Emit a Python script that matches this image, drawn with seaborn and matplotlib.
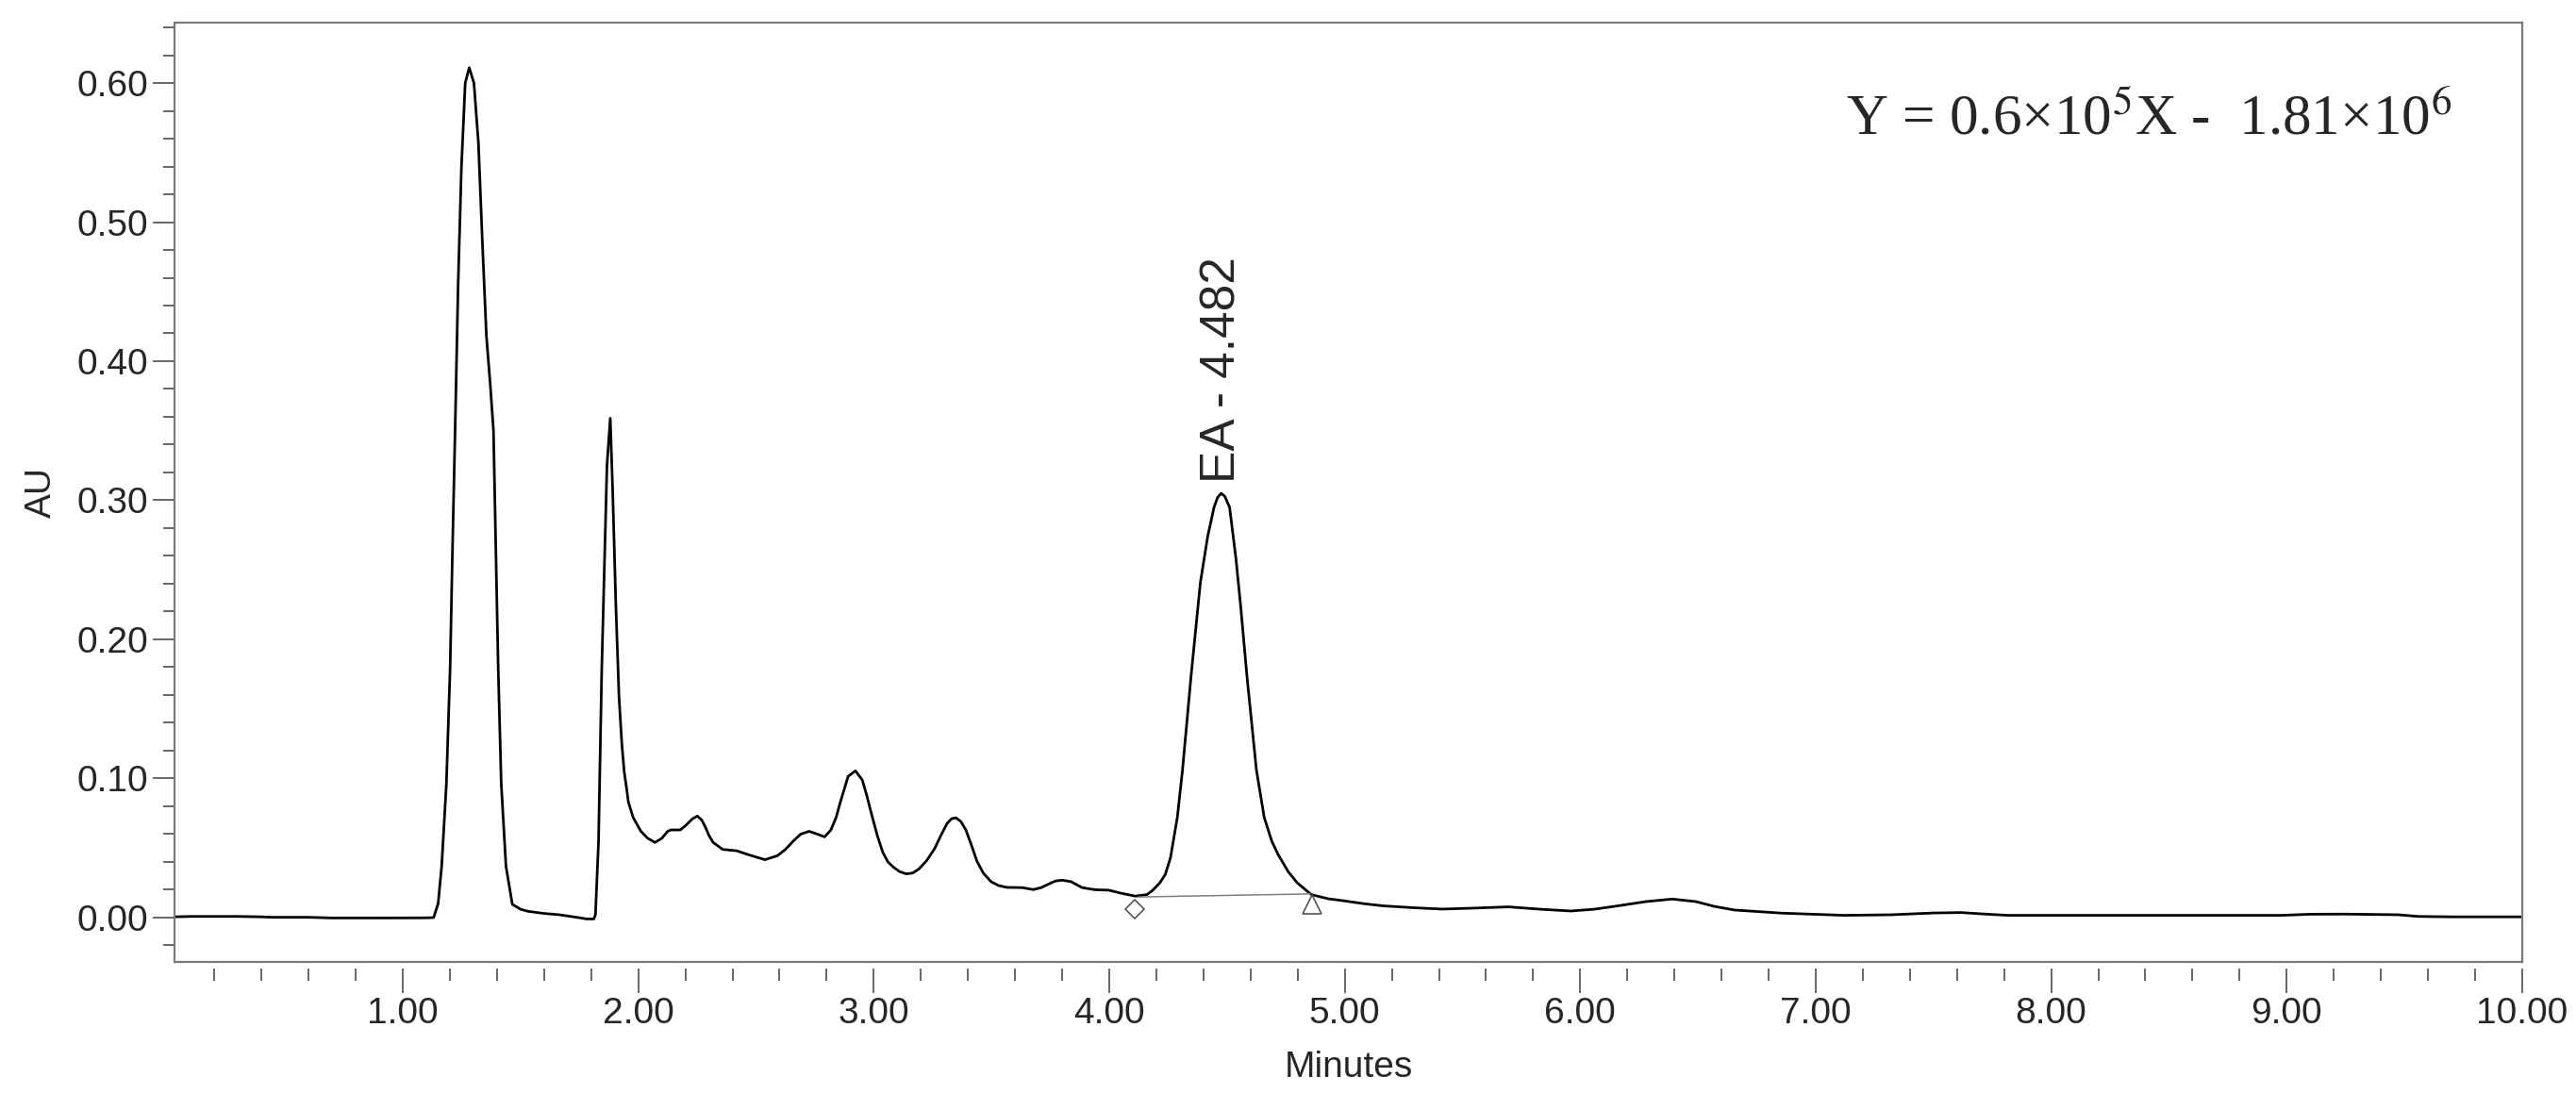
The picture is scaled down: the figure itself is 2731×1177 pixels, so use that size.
import matplotlib.pyplot as plt
import pandas as pd
import seaborn as sns
from matplotlib.ticker import FormatStrFormatter, MultipleLocator

# Cromatograma lido ponto a ponto da figura (tempo em minutos, absorbância em AU)
TEMPO = [
    0.03, 0.10, 0.30, 0.40, 0.45, 0.60, 0.70, 0.90, 1.10, 1.131,
    1.150, 1.165, 1.185, 1.201, 1.211, 1.222, 1.235, 1.249, 1.265, 1.282,
    1.302, 1.321, 1.338, 1.355, 1.371, 1.385, 1.395, 1.405, 1.418, 1.438,
    1.465, 1.500, 1.531, 1.598, 1.665, 1.745, 1.780, 1.811, 1.818, 1.831,
    1.845, 1.858, 1.867, 1.881, 1.891, 1.905, 1.918, 1.930, 1.940, 1.951,
    1.958, 1.978, 2.011, 2.040, 2.071, 2.100, 2.125, 2.138, 2.160, 2.178,
    2.200, 2.230, 2.251, 2.270, 2.285, 2.300, 2.318, 2.358, 2.418, 2.471,
    2.538, 2.591, 2.625, 2.658, 2.690, 2.725, 2.760, 2.791, 2.818, 2.840,
    2.858, 2.891, 2.922, 2.951, 2.970, 2.991, 3.015, 3.038, 3.060, 3.085,
    3.110, 3.138, 3.165, 3.191, 3.225, 3.258, 3.285, 3.311, 3.330, 3.349,
    3.370, 3.391, 3.415, 3.438, 3.465, 3.498, 3.530, 3.565, 3.631, 3.678,
    3.710, 3.738, 3.770, 3.798, 3.838, 3.885, 3.940, 3.998, 4.050, 4.111,
    4.160, 4.185, 4.215, 4.238, 4.260, 4.289, 4.311, 4.347, 4.387, 4.418,
    4.445, 4.460, 4.475, 4.490, 4.511, 4.538, 4.558, 4.585, 4.625, 4.658,
    4.690, 4.718, 4.760, 4.798, 4.858, 4.930, 4.998, 5.080, 5.164, 5.300,
    5.413, 5.550, 5.695, 5.830, 5.960, 6.060, 6.159, 6.280, 6.391, 6.490,
    6.570, 6.656, 6.855, 7.121, 7.320, 7.500, 7.618, 7.720, 7.817, 8.315,
    8.978, 9.100, 9.243, 9.476, 9.560, 9.708, 10.00,
]
ABSORBANCIA = [
    0.0005, 0.0008, 0.0008, 0.0005, 0.0002, 0.0002, -0.0003, -0.0003, -0.0002, 0.0,
    0.010, 0.037, 0.096, 0.180, 0.265, 0.350, 0.456, 0.540, 0.600, 0.611,
    0.600, 0.557, 0.485, 0.418, 0.384, 0.350, 0.265, 0.180, 0.096, 0.037,
    0.0095, 0.006, 0.0045, 0.003, 0.002, 0.0, -0.001, -0.001, 0.002, 0.054,
    0.180, 0.265, 0.325, 0.359, 0.308, 0.223, 0.159, 0.125, 0.105, 0.092,
    0.083, 0.072, 0.062, 0.057, 0.054, 0.057, 0.062, 0.063, 0.063, 0.063,
    0.066, 0.071, 0.073, 0.070, 0.065, 0.059, 0.054, 0.049, 0.048, 0.045,
    0.0416, 0.0445, 0.049, 0.055, 0.060, 0.062, 0.060, 0.058, 0.063, 0.072,
    0.083, 0.1015, 0.1055, 0.099, 0.088, 0.074, 0.059, 0.047, 0.040, 0.036,
    0.033, 0.0314, 0.032, 0.0348, 0.041, 0.0495, 0.059, 0.0676, 0.071, 0.0717,
    0.069, 0.063, 0.052, 0.0405, 0.032, 0.0258, 0.023, 0.0217, 0.0215, 0.0201,
    0.0215, 0.0237, 0.0262, 0.0269, 0.0258, 0.0215, 0.020, 0.0197, 0.0175, 0.0154,
    0.0165, 0.0197, 0.025, 0.031, 0.043, 0.072, 0.106, 0.173, 0.241, 0.274,
    0.295, 0.302, 0.305, 0.303, 0.295, 0.258, 0.224, 0.173, 0.106, 0.072,
    0.055, 0.045, 0.033, 0.025, 0.0165, 0.0135, 0.012, 0.010, 0.0084, 0.007,
    0.0061, 0.0068, 0.0077, 0.006, 0.0047, 0.006, 0.0084, 0.0115, 0.0133, 0.0115,
    0.008, 0.0054, 0.0032, 0.0016, 0.002, 0.0033, 0.0036, 0.0025, 0.0016, 0.0016,
    0.0016, 0.0024, 0.0025, 0.002, 0.0008, 0.0005, 0.0005,
]

PICO_ROTULO = "EA - 4.482"
PICO_TEMPO = 4.482
PICO_ALTURA = 0.305

# linha de base da integração e marcadores de início/fim do pico
LINHA_BASE_TEMPO = [4.125, 4.855]
LINHA_BASE_AU = [0.0148, 0.0170]
INICIO_TEMPO, INICIO_AU = 4.11, 0.0061
FIM_TEMPO, FIM_AU = 4.862, 0.0095

EQUACAO = r"Y = 0.6×10$^5$X -  1.81×10$^6$"

sns.set_theme(style="white")
plt.rcParams["font.family"] = ["Liberation Sans", "DejaVu Sans"]

cromatograma = pd.DataFrame({"tempo": TEMPO, "au": ABSORBANCIA})

fig = plt.figure(figsize=(27.31, 11.77), dpi=100)
ax = fig.add_axes([0.0677, 0.1334, 0.9114, 0.8462])

sns.lineplot(data=cromatograma, x="tempo", y="au", color="black", linewidth=2.0,
             estimator=None, sort=False, ax=ax)
ax.plot(LINHA_BASE_TEMPO, LINHA_BASE_AU, color="#808080", lw=1.1)
ax.plot(INICIO_TEMPO, INICIO_AU, marker="D", ms=10, mfc="white", mec="#555555",
        mew=1.2, ls="none")
ax.plot(FIM_TEMPO, FIM_AU, marker="^", ms=14, mfc="white", mec="#555555",
        mew=1.2, ls="none")

ax.set_xlim(0.03, 10.0)
ax.set_ylim(-0.0319, 0.6434)
ax.set_xlabel("")
ax.set_ylabel("AU", fontsize=28, labelpad=14)

for sp in ax.spines.values():
    sp.set_color("#7a7a7a")
    sp.set_linewidth(1.6)

ax.yaxis.set_major_locator(MultipleLocator(0.1))
ax.yaxis.set_minor_locator(MultipleLocator(0.02))
ax.yaxis.set_major_formatter(FormatStrFormatter("%.2f"))
ax.tick_params(axis="y", which="both", left=True, direction="out",
               color="#666666", width=1.4, labelsize=28, pad=3.5)
ax.tick_params(axis="y", which="major", length=16.5)
ax.tick_params(axis="y", which="minor", length=8.6)
ax.tick_params(axis="x", which="both", bottom=False, labelbottom=False)

# ticks do eixo x ficam destacados, um pouco abaixo da moldura
sec = ax.secondary_xaxis(-0.007)
sec.spines["bottom"].set_visible(False)
sec.xaxis.set_major_locator(MultipleLocator(1))
sec.xaxis.set_minor_locator(MultipleLocator(0.2))
sec.xaxis.set_major_formatter(FormatStrFormatter("%.2f"))
sec.tick_params(axis="x", which="both", bottom=True, direction="out",
                color="#666666", width=1.4, labelsize=28, pad=3)
sec.tick_params(axis="x", which="major", length=18.7)
sec.tick_params(axis="x", which="minor", length=9.4)
sec.set_xlabel("Minutes", fontsize=28, labelpad=15)

ax.annotate(PICO_ROTULO, xy=(PICO_TEMPO, PICO_ALTURA), xytext=(0, 8),
            textcoords="offset points", rotation=90, ha="center", va="bottom",
            fontsize=37)

ax.text(0.841, 0.8815, EQUACAO, transform=ax.transAxes, ha="center",
        va="baseline", fontsize=44, family="Liberation Serif",
        math_fontfamily="stix")

fig.savefig("out.png", dpi=100)
plt.close(fig)
